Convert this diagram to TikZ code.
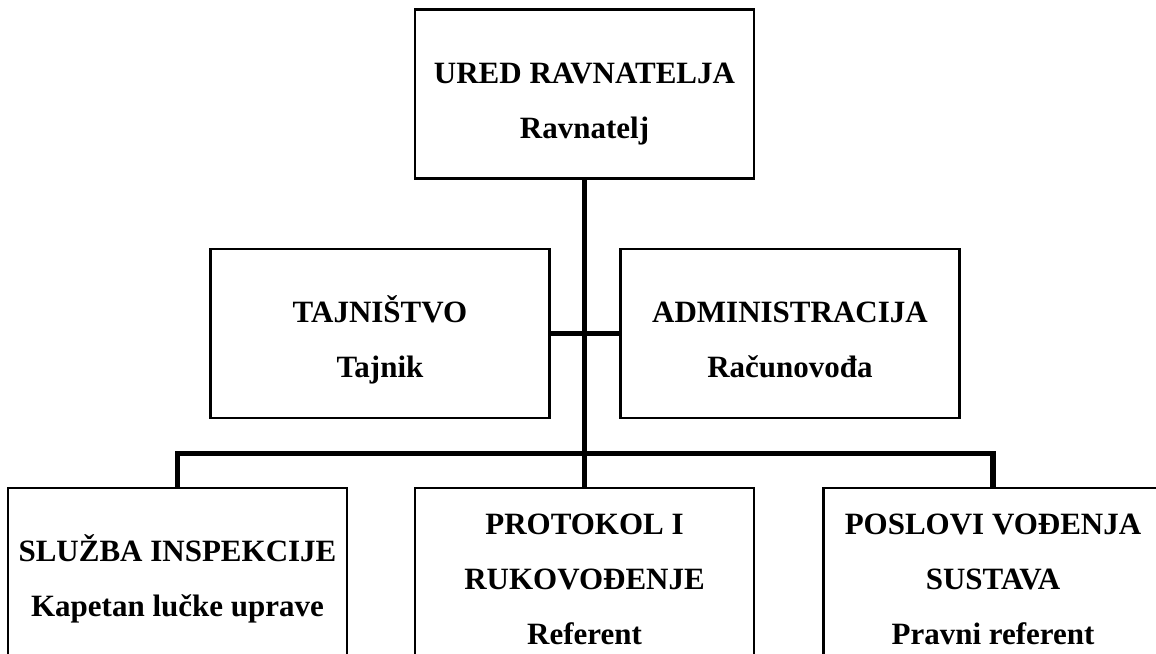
\documentclass[tikz,border=0pt]{standalone}
\usepackage{fontspec}
\setmainfont{Liberation Serif}
\usetikzlibrary{positioning}
\tikzset{
unit/.style={
	  draw, line width=1.2pt, rectangle, align=center, inner sep=0pt,
	    minimum width=169.5pt, minimum height=84.5pt,
    font=\bfseries\fontsize{15.5}{27.5}\selectfont},
link/.style={line width=2.8pt}
}
\newcommand{\upstrut}{\rule{0pt}{20.5pt}}
\newcommand{\downstrut}{\rule[-4pt]{0pt}{4pt}}

\begin{document}
\begin{tikzpicture}[x=0.5pt, y=-0.5pt]
	\useasboundingbox (0,0) rectangle (1156,653);
	\node[unit] (ured) at (584.5,94) {\upstrut URED RAVNATELJA\\Ravnatelj\downstrut};
	\node[unit] (tajnistvo) at (380,333.5) {\upstrut TAJNIŠTVO\\Tajnik\downstrut};
	\node[unit] (admin) at (790,333.5) {\upstrut ADMINISTRACIJA\\Računovođa\downstrut};
	\node[unit] (sluzba) at (177.5,572.5) {\upstrut SLUŽBA INSPEKCIJE\\Kapetan lučke uprave\downstrut};
	\node[unit] (protokol) at (584.5,572.5) {\upstrut PROTOKOL I\\RUKOVOĐENJE\\Referent\downstrut};
	\node[unit] (poslovi) at (993,572.5) {\upstrut POSLOVI VOĐENJA\\SUSTAVA\\Pravni referent\downstrut};
	\coordinate (bus) at (584.5,453.5);
	% trunk and side units
	\draw[link] (ured.south) -- (bus);
	\draw[link] (tajnistvo.east) -- (admin.west);
	% bus to lower units
	\draw[link] (sluzba.north) -- (sluzba.north |- bus) -- (poslovi.north |- bus) -- (poslovi.north);
	\draw[link] (bus) -- (protokol.north);
\end{tikzpicture}
\end{document}
